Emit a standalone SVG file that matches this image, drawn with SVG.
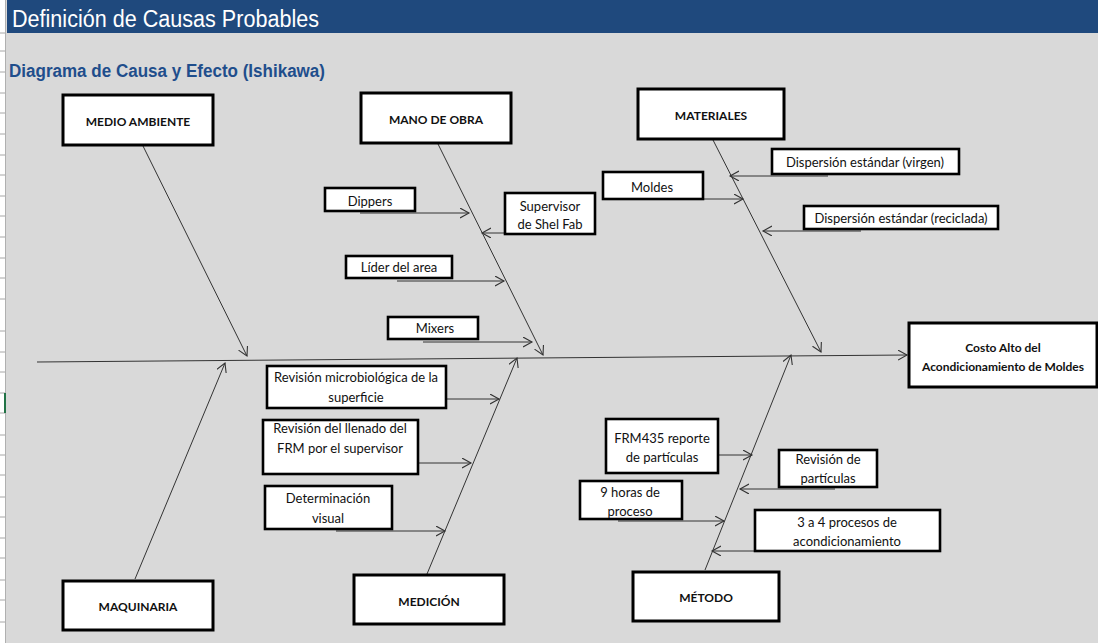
<svg xmlns="http://www.w3.org/2000/svg" width="1098" height="643" viewBox="0 0 1098 643">
<defs>
<style>
.bg{fill:#d9d9d9}
.box{fill:#fff;stroke:#000;stroke-width:2.6}
.cat{fill:#fff;stroke:#000;stroke-width:3}
.t{font-family:Lato,"Open Sans","Liberation Sans",sans-serif;font-size:13px;fill:#111;text-anchor:middle}
.b{font-family:Lato,"Open Sans","Liberation Sans",sans-serif;font-size:12px;font-weight:bold;fill:#111;text-anchor:middle}
.ln{stroke:#333;stroke-width:1;fill:none;marker-end:url(#ah)}
.tick{stroke:#a6a6a6;stroke-width:1}
</style>
<marker id="ah" markerUnits="userSpaceOnUse" markerWidth="12" markerHeight="12" refX="9" refY="5" orient="auto">
<path d="M0,0 L9,5 L0,10" fill="none" stroke="#333" stroke-width="1.1"/>
</marker>
</defs>
<rect x="0" y="0" width="1098" height="643" fill="#fff"/>
<rect class="bg" x="6" y="0" width="1092" height="643"/>
<line x1="5.5" y1="0" x2="5.5" y2="643" stroke="#b0b0b0" stroke-width="1"/>
<g id="ticks">
<line class="tick" x1="0" y1="33" x2="5" y2="33"/><line class="tick" x1="0" y1="51" x2="5" y2="51"/><line class="tick" x1="0" y1="72" x2="5" y2="72"/><line class="tick" x1="0" y1="93" x2="5" y2="93"/><line class="tick" x1="0" y1="113" x2="5" y2="113"/><line class="tick" x1="0" y1="134" x2="5" y2="134"/><line class="tick" x1="0" y1="155" x2="5" y2="155"/><line class="tick" x1="0" y1="175" x2="5" y2="175"/><line class="tick" x1="0" y1="196" x2="5" y2="196"/><line class="tick" x1="0" y1="216" x2="5" y2="216"/><line class="tick" x1="0" y1="237" x2="5" y2="237"/><line class="tick" x1="0" y1="258" x2="5" y2="258"/><line class="tick" x1="0" y1="278" x2="5" y2="278"/><line class="tick" x1="0" y1="299" x2="5" y2="299"/><line class="tick" x1="0" y1="331" x2="5" y2="331"/><line class="tick" x1="0" y1="352" x2="5" y2="352"/><line class="tick" x1="0" y1="372" x2="5" y2="372"/><line class="tick" x1="0" y1="393" x2="5" y2="393"/><line class="tick" x1="0" y1="413" x2="5" y2="413"/><line class="tick" x1="0" y1="435" x2="5" y2="435"/><line class="tick" x1="0" y1="455" x2="5" y2="455"/><line class="tick" x1="0" y1="475" x2="5" y2="475"/><line class="tick" x1="0" y1="497" x2="5" y2="497"/><line class="tick" x1="0" y1="517" x2="5" y2="517"/><line class="tick" x1="0" y1="538" x2="5" y2="538"/><line class="tick" x1="0" y1="558" x2="5" y2="558"/><line class="tick" x1="0" y1="580" x2="5" y2="580"/><line class="tick" x1="0" y1="600" x2="5" y2="600"/><line class="tick" x1="0" y1="622" x2="5" y2="622"/>
<rect x="4" y="393" width="2" height="20" fill="#217346"/>
</g>
<g id="header">
<rect x="7" y="0" width="1091" height="33" fill="#1f497d"/>
<text x="12" y="27" font-family="'Liberation Sans',Arial,sans-serif" font-size="23" fill="#fff" textLength="307" lengthAdjust="spacingAndGlyphs">Definición de Causas Probables</text>
<text x="9" y="77" font-family="'Liberation Sans',Arial,sans-serif" font-size="18" font-weight="bold" fill="#1f4e8c" textLength="316" lengthAdjust="spacingAndGlyphs">Diagrama de Causa y Efecto (Ishikawa)</text>
</g>
<g id="connectors">
<line class="ln" x1="37" y1="362" x2="907" y2="355"/>
<line class="ln" x1="143" y1="146" x2="247" y2="356"/>
<line class="ln" x1="135" y1="579" x2="225" y2="363"/>
<line class="ln" x1="438" y1="144" x2="543" y2="355"/>
<line class="ln" x1="427" y1="574" x2="517" y2="358"/>
<line class="ln" x1="713" y1="140" x2="821" y2="352"/>
<line class="ln" x1="705" y1="570" x2="791" y2="355"/>
<line class="ln" x1="360" y1="213" x2="469" y2="213"/>
<line class="ln" x1="505" y1="233" x2="482" y2="233"/>
<line class="ln" x1="397" y1="281" x2="504" y2="281"/>
<line class="ln" x1="423" y1="342" x2="532" y2="342"/>
<line class="ln" x1="828" y1="176" x2="730" y2="176"/>
<line class="ln" x1="703" y1="199" x2="743" y2="199"/>
<line class="ln" x1="861" y1="231" x2="763" y2="231"/>
<line class="ln" x1="446" y1="399" x2="499" y2="399"/>
<line class="ln" x1="418" y1="463" x2="471" y2="463"/>
<line class="ln" x1="336" y1="531" x2="445" y2="531"/>
<line class="ln" x1="718" y1="455" x2="752" y2="455"/>
<line class="ln" x1="835" y1="489" x2="740" y2="489"/>
<line class="ln" x1="618" y1="521" x2="724" y2="521"/>
<line class="ln" x1="755" y1="551" x2="712" y2="551"/>
</g>
<g id="medio-ambiente"><rect class="cat" x="63" y="95" width="150" height="50"/><text class="b" x="138" y="125.5">MEDIO AMBIENTE</text></g>
<g id="mano-de-obra"><rect class="cat" x="361" y="93" width="150" height="50"/><text class="b" x="436" y="123.5">MANO DE OBRA</text></g>
<g id="materiales"><rect class="cat" x="638" y="89" width="146" height="50"/><text class="b" x="711" y="119.5">MATERIALES</text></g>
<g id="costo"><rect class="cat" x="909" y="323" width="188" height="64"/><text class="b" x="1003" y="351.5">Costo Alto del</text><text class="b" x="1003" y="370.5">Acondicionamiento de Moldes</text></g>
<g id="maquinaria"><rect class="cat" x="63" y="581" width="150" height="49"/><text class="b" x="138" y="610.5">MAQUINARIA</text></g>
<g id="medicion"><rect class="cat" x="354" y="575" width="150" height="49"/><text class="b" x="429" y="605.5">MEDICIÓN</text></g>
<g id="metodo"><rect class="cat" x="633" y="572" width="146" height="49"/><text class="b" x="706" y="601.5">MÉTODO</text></g>
<g id="dippers"><rect class="box" x="325" y="188" width="90" height="23"/><text class="t" x="370" y="205.5">Dippers</text></g>
<g id="supervisor"><rect class="box" x="505" y="193" width="90" height="41"/><text class="t" x="550" y="210.5">Supervisor</text><text class="t" x="550" y="228.5">de Shel Fab</text></g>
<g id="lider"><rect class="box" x="346" y="256" width="106" height="22"/><text class="t" x="399" y="271.5">Líder del area</text></g>
<g id="mixers"><rect class="box" x="388" y="317" width="90" height="22"/><text class="t" x="435" y="332.5">Mixers</text></g>
<g id="disp-virgen"><rect class="box" x="772" y="149" width="187" height="25"/><text class="t" x="865" y="166.5">Dispersión estándar (virgen)</text></g>
<g id="moldes"><rect class="box" x="603" y="172" width="100" height="27"/><text class="t" x="652" y="191.5">Moldes</text></g>
<g id="disp-reciclada"><rect class="box" x="804" y="206" width="194" height="23"/><text class="t" x="901" y="222.5">Dispersión estándar (reciclada)</text></g>
<g id="rev-micro"><rect class="box" x="267" y="366" width="179" height="42"/><text class="t" x="356" y="381.5">Revisión microbiológica de la</text><text class="t" x="356" y="401.5">superficie</text></g>
<g id="rev-llenado"><rect class="box" x="263" y="420" width="155" height="54"/><text class="t" x="340" y="432.5">Revisión del llenado del</text><text class="t" x="340" y="452.5">FRM por el supervisor</text></g>
<g id="determinacion"><rect class="box" x="265" y="486" width="127" height="43"/><text class="t" x="328" y="502.5">Determinación</text><text class="t" x="328" y="522.5">visual</text></g>
<g id="frm435"><rect class="box" x="606" y="419" width="112" height="54"/><text class="t" x="662" y="442.5">FRM435 reporte</text><text class="t" x="662" y="461.5">de partículas</text></g>
<g id="rev-particulas"><rect class="box" x="779" y="450" width="98" height="37"/><text class="t" x="828" y="463.5">Revisión de</text><text class="t" x="828" y="482.5">partículas</text></g>
<g id="nueve-horas"><rect class="box" x="580" y="481" width="102" height="38"/><text class="t" x="630" y="496.5">9 horas de</text><text class="t" x="630" y="515.5">proceso</text></g>
<g id="tres-a-cuatro"><rect class="box" x="755" y="510" width="185" height="41"/><text class="t" x="847" y="526.5">3 a 4 procesos de</text><text class="t" x="847" y="545.5">acondicionamiento</text></g>
</svg>
